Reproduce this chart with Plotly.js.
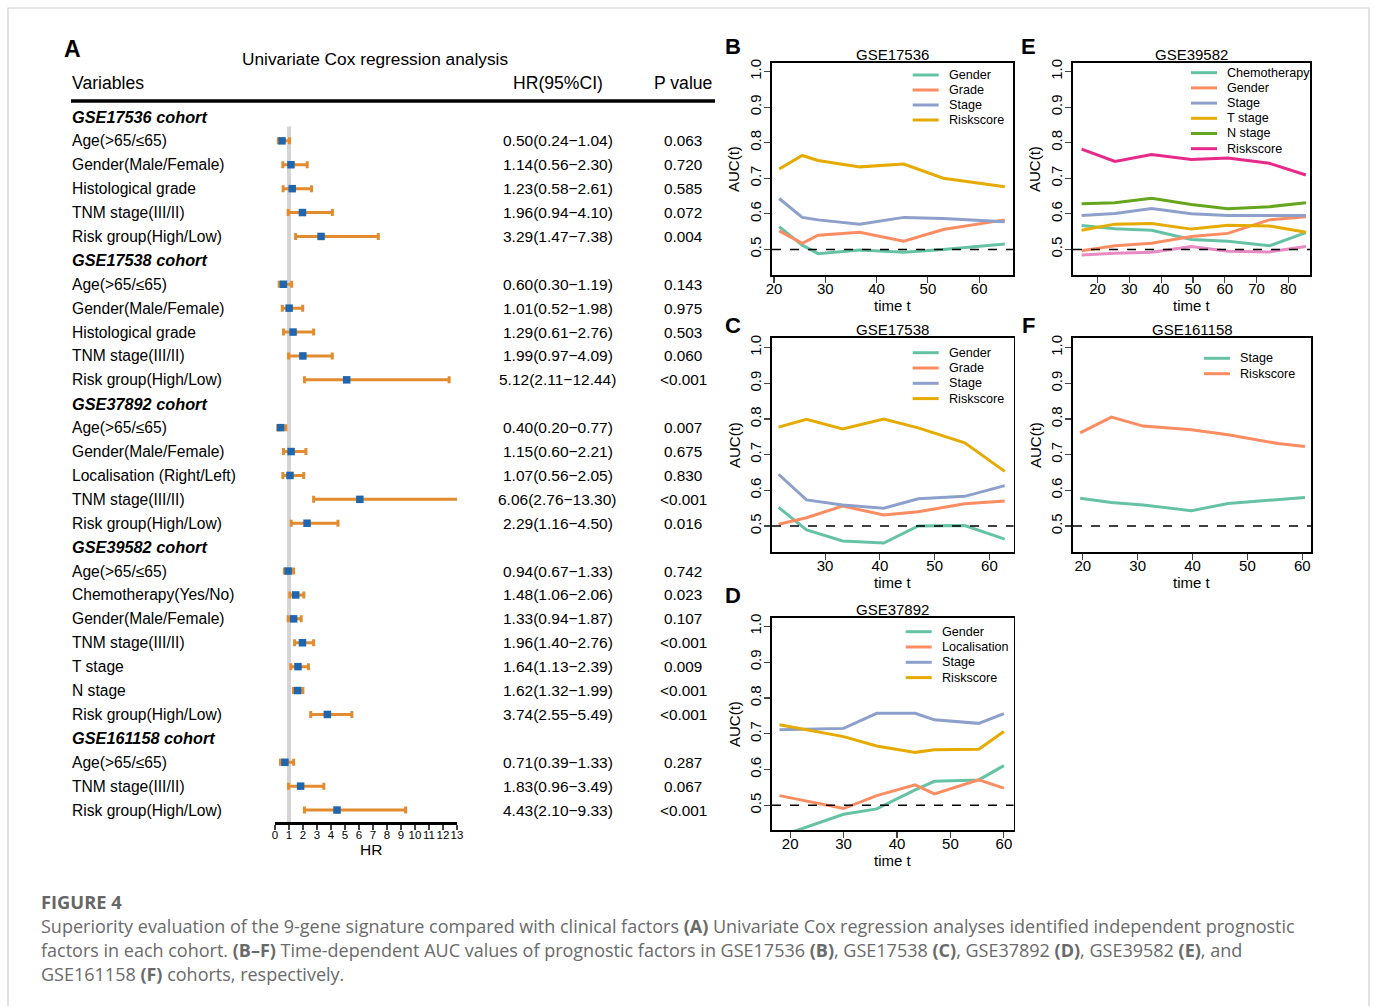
<!DOCTYPE html>
<html>
<head>
<meta charset="utf-8">
<script src="https://cdn.plot.ly/plotly-3.0.1.min.js"></script>
<style>
html,body{margin:0;padding:0;background:#fff;}
#chart{width:1375px;height:1006px;}
</style>
</head>
<body>
<div id="chart"></div>
<script>
// ---------------- Panel A data (univariate Cox) ----------------
const cohorts = ['GSE17536 cohort','GSE17538 cohort','GSE37892 cohort','GSE39582 cohort','GSE161158 cohort'];
const cohortSizes = [5,5,5,7,3];
const variables = [
  'Age(>65/≤65)','Gender(Male/Female)','Histological grade','TNM stage(III/II)','Risk group(High/Low)',
  'Age(>65/≤65)','Gender(Male/Female)','Histological grade','TNM stage(III/II)','Risk group(High/Low)',
  'Age(>65/≤65)','Gender(Male/Female)','Localisation (Right/Left)','TNM stage(III/II)','Risk group(High/Low)',
  'Age(>65/≤65)','Chemotherapy(Yes/No)','Gender(Male/Female)','TNM stage(III/II)','T stage','N stage','Risk group(High/Low)',
  'Age(>65/≤65)','TNM stage(III/II)','Risk group(High/Low)'
];
const hr     = [0.50,1.14,1.23,1.96,3.29, 0.60,1.01,1.29,1.99,5.12, 0.40,1.15,1.07,6.06,2.29, 0.94,1.48,1.33,1.96,1.64,1.62,3.74, 0.71,1.83,4.43];
const ciLow  = [0.24,0.56,0.58,0.94,1.47, 0.30,0.52,0.61,0.97,2.11, 0.20,0.60,0.56,2.76,1.16, 0.67,1.06,0.94,1.40,1.13,1.32,2.55, 0.39,0.96,2.10];
const ciHigh = [1.04,2.30,2.61,4.10,7.38, 1.19,1.98,2.76,4.09,12.44, 0.77,2.21,2.05,13.30,4.50, 1.33,2.06,1.87,2.76,2.39,1.99,5.49, 1.33,3.49,9.33];
const pValues = ['0.063','0.720','0.585','0.072','0.004', '0.143','0.975','0.503','0.060','<0.001', '0.007','0.675','0.830','<0.001','0.016', '0.742','0.023','0.107','<0.001','0.009','<0.001','<0.001', '0.287','0.067','<0.001'];
const hrTicks = [0,1,2,3,4,5,6,7,8,9,10,11,12,13];
const refHR = 1;

// ---------------- Panels B-F data (time-dependent AUC) ----------------
const aucTicks = [0.5,0.6,0.7,0.8,0.9,1.0];
const aucRef = 0.5;
// B GSE17536
const bTimes  = [21, 25.5, 28.6, 36.7, 45.3, 53, 65];
const bGender = [0.564, 0.512, 0.488, 0.498, 0.492, 0.500, 0.515];
const bGrade  = [0.552, 0.517, 0.540, 0.548, 0.523, 0.556, 0.583];
const bStage  = [0.643, 0.590, 0.583, 0.571, 0.590, 0.587, 0.578];
const bRisk   = [0.726, 0.764, 0.750, 0.732, 0.740, 0.700, 0.676];
// C GSE17538
const cTimes  = [21.5, 26.6, 33.2, 40.7, 47, 55.5, 62.8];
const cGender = [0.552, 0.489, 0.458, 0.452, 0.500, 0.501, 0.463];
const cGrade  = [0.505, 0.523, 0.556, 0.531, 0.540, 0.562, 0.570];
const cStage  = [0.645, 0.573, 0.559, 0.550, 0.576, 0.583, 0.613];
const cRisk   = [0.777, 0.799, 0.772, 0.800, 0.775, 0.733, 0.653];
// D GSE37892
const dTimes  = [18, 30, 36.2, 43.4, 47, 55.3, 60];
const dGender = [0.413, 0.475, 0.490, 0.543, 0.567, 0.571, 0.611];
const dLocal  = [0.527, 0.491, 0.527, 0.557, 0.532, 0.571, 0.548];
const dStage  = [0.711, 0.715, 0.757, 0.757, 0.739, 0.729, 0.756];
const dRisk   = [0.725, 0.692, 0.666, 0.648, 0.655, 0.657, 0.706];
// E GSE39582
const eTimes  = [15, 25.5, 37, 49.5, 61, 74, 85.5];
const eChemo  = [0.567, 0.558, 0.554, 0.528, 0.523, 0.510, 0.547];
const eGender = [0.496, 0.510, 0.517, 0.536, 0.545, 0.583, 0.592];
const eStage  = [0.595, 0.601, 0.615, 0.600, 0.595, 0.594, 0.595];
const eTstage = [0.554, 0.571, 0.573, 0.557, 0.568, 0.566, 0.548];
const eNstage = [0.628, 0.631, 0.644, 0.626, 0.614, 0.620, 0.631];
const eRisk   = [0.782, 0.747, 0.767, 0.753, 0.757, 0.742, 0.709];
const eOther  = [0.484, 0.489, 0.492, 0.508, 0.495, 0.493, 0.508];
// F GSE161158
const fTimes  = [19.5, 25.2, 31, 39.8, 46.5, 55.6, 60.5];
const fStage  = [0.578, 0.566, 0.559, 0.543, 0.563, 0.575, 0.580];
const fRisk   = [0.761, 0.805, 0.780, 0.770, 0.756, 0.731, 0.723];

// ---------------- helpers ----------------
const W = 1375, H = 1006;
const fx = p => p / W;
const fy = p => 1 - p / H;
const FONT = 'Liberation Sans, Arial, sans-serif';
const C = {teal:'#66C2A5', orange:'#FC8D62', blue:'#8DA0CB', gold:'#E6AB02', green:'#66A61E', magenta:'#E7298A', pink:'#E78AC3'};

const rowY = [];
const headerRows = [];
{
  let r = 0;
  cohorts.forEach((c, ci) => {
    headerRows.push(r); r++;
    for (let j = 0; j < cohortSizes[ci]; j++) { rowY.push(r); r++; }
  });
}
const nRows = rowY.length + headerRows.length;

const traces = [];
const annotations = [];
const shapes = [];
function txt(x, y, text, size, opts) {
  annotations.push(Object.assign({xref:'paper', yref:'paper', x:fx(x), y:fy(y), xanchor:'center', yanchor:'middle',
    text, showarrow:false, borderpad:0, font:{family:FONT, size, color:'#000'}}, opts || {}));
}

// forest trace
traces.push({
  type:'scatter', mode:'markers', x: hr, y: rowY, xaxis:'x', yaxis:'y', showlegend:false,
  marker:{symbol:'square', size:7.5, color:'#1f66ae'},
  error_x:{type:'data', symmetric:false,
    array: hr.map((v,i)=> ciHigh[i]-v), arrayminus: hr.map((v,i)=> v-ciLow[i]),
    color:'#e38b2f', thickness:3, width:3.5}
});

const rowAnn = (x, r, text, size, xanchor) => annotations.push({xref:'paper', yref:'y', x:fx(x), y:r, xanchor, yanchor:'middle',
  text, showarrow:false, borderpad:0, font:{family:FONT, size, color:'#000'}});
headerRows.forEach((r, i) => rowAnn(71, r, '<b><i>'+cohorts[i]+'</i></b>', 16.3, 'left'));
const fmt = v => v.toFixed(2);
rowY.forEach((r, i) => {
  rowAnn(71, r, variables[i], 15.6, 'left');
  rowAnn(557.5, r, fmt(hr[i])+'('+fmt(ciLow[i])+'−'+fmt(ciHigh[i])+')', 15.5, 'center');
  rowAnn(683, r, pValues[i], 15.3, 'center');
});
txt(72.5, 49, '<b>A</b>', 23);
txt(375, 59, 'Univariate Cox regression analysis', 17.3);
txt(71, 83, 'Variables', 17.6, {xanchor:'left'});
txt(558, 83, 'HR(95%CI)', 17.6);
txt(683, 83, 'P value', 17.6);
txt(371, 849, 'HR', 15.5);
shapes.push({type:'line', xref:'paper', yref:'paper', x0:fx(71), x1:fx(715), y0:fy(101), y1:fy(101), line:{color:'#000', width:3.5}});
shapes.push({type:'line', xref:'x', yref:'y domain', x0:refHR, x1:refHR, y0:0, y1:0.97, layer:'below', line:{color:'#d4d4d4', width:4}});

// ---------------- AUC panels ----------------
const panels = [
  {id:2, letter:'B', lp:[733,47], title:'GSE17536', box:[772,1013,63,275], xr:[19.6,66.6], yr:[0.428,1.024], xt:[20,30,40,50,60],
   leg:[912.7,75,15], series:[['Gender',bTimes,bGender,C.teal],['Grade',bTimes,bGrade,C.orange],['Stage',bTimes,bStage,C.blue],['Riskscore',bTimes,bRisk,C.gold]]},
  {id:3, letter:'C', lp:[733,325], title:'GSE17538', box:[772,1013.5,338,552], xr:[20.3,64.4], yr:[0.427,1.027], xt:[30,40,50,60],
   leg:[912.7,352.7,15.3], series:[['Gender',cTimes,cGender,C.teal],['Grade',cTimes,cGrade,C.orange],['Stage',cTimes,cStage,C.blue],['Riskscore',cTimes,cRisk,C.gold]]},
  {id:4, letter:'D', lp:[733,595], title:'GSE37892', box:[772,1013.5,618,830], xr:[16.6,61.8], yr:[0.431,1.0235], xt:[20,30,40,50,60],
   leg:[905.7,631.7,15.3], series:[['Gender',dTimes,dGender,C.teal],['Localisation',dTimes,dLocal,C.orange],['Stage',dTimes,dStage,C.blue],['Riskscore',dTimes,dRisk,C.gold]]},
  {id:5, letter:'E', lp:[1028,47], title:'GSE39582', box:[1073,1310,63,275], xr:[12.3,86.8], yr:[0.428,1.024], xt:[20,30,40,50,60,70,80],
   leg:[1191,72.7,15.2], series:[['Chemotherapy',eTimes,eChemo,C.teal],['Gender',eTimes,eGender,C.orange],['Stage',eTimes,eStage,C.blue],['T stage',eTimes,eTstage,C.gold],['N stage',eTimes,eNstage,C.green],['Riskscore',eTimes,eRisk,C.magenta],['Other',eTimes,eOther,C.pink,false]]},
  {id:6, letter:'F', lp:[1028,325], title:'GSE161158', box:[1073,1311,338,552], xr:[18.2,61.6], yr:[0.427,1.027], xt:[20,30,40,50,60],
   leg:[1204,358.3,15.4], series:[['Stage',fTimes,fStage,C.teal],['Riskscore',fTimes,fRisk,C.orange]]}
];

const layout = {
  width: W, height: H, margin:{l:0,r:0,t:0,b:0},
  paper_bgcolor:'#fff', plot_bgcolor:'rgba(0,0,0,0)',
  font:{family:FONT, color:'#000'},
  showlegend:false,
  xaxis:{domain:[fx(275), fx(457)], range:[0,13], anchor:'y', tickvals:hrTicks, tickangle:0, ticks:'outside', ticklen:5, tickwidth:2,
         ticklabelstandoff:-4, showline:true, linewidth:2.5, linecolor:'#000', showgrid:false, zeroline:false, tickfont:{family:FONT,size:11.5}},
  yaxis:{domain:[fy(822), fy(105)], range:[nRows-0.5, -0.5], anchor:'x', visible:false, showgrid:false, zeroline:false},
  annotations, shapes
};

panels.forEach(p => {
  const xa = 'xaxis'+p.id, ya = 'yaxis'+p.id;
  const [l, r, t, b] = p.box;
  layout[xa] = {domain:[fx(l), fx(r)], range:p.xr, anchor:'y'+p.id, tickvals:p.xt, tickangle:0, ticks:'outside', ticklen:6, tickwidth:1.2,
    ticklabelstandoff:-7, showline:true, mirror:true, linecolor:'#000', linewidth:1.6, showgrid:false, zeroline:false, tickfont:{family:FONT,size:15}};
  layout[ya] = {domain:[fy(b), fy(t)], range:p.yr, anchor:'x'+p.id, tickvals:aucTicks, ticktext:aucTicks.map(v=>v.toFixed(1)), tickangle:-90,
    ticks:'outside', ticklen:6, tickwidth:1.2, ticklabelstandoff:-3, showline:true, mirror:true, linecolor:'#000', linewidth:1.6, showgrid:false, zeroline:false,
    tickfont:{family:FONT,size:15}};
  let k = 0;
  p.series.forEach(s => {
    traces.push({type:'scatter', mode:'lines', name:s[0], x:s[1], y:s[2], xaxis:'x'+p.id, yaxis:'y'+p.id,
      showlegend:false, line:{color:s[3], width:3}});
    if (s[4] !== false) {
      const ly = p.leg[1] + k * p.leg[2];
      shapes.push({type:'line', xref:'paper', yref:'paper', x0:fx(p.leg[0]), x1:fx(p.leg[0]+26), y0:fy(ly), y1:fy(ly), line:{color:s[3], width:3}});
      txt(p.leg[0]+35, ly, s[0], 12.6, {xanchor:'left'});
      k++;
    }
  });
  shapes.push({type:'line', xref:'x'+p.id+' domain', yref:'y'+p.id, x0:0, x1:1, y0:aucRef, y1:aucRef, line:{color:'#000', width:1.5, dash:'dash'}});
  txt((l+r)/2, t-9, p.title, 15);
  txt((l+r)/2, b+30, 'time t', 15);
  txt(l-38, (t+b)/2, 'AUC(t)', 15, {textangle:-90});
  txt(p.lp[0], p.lp[1], '<b>'+p.letter+'</b>', 22);
});

// ---------------- caption & frame ----------------
const CAP = 'Open Sans, Lato, sans-serif';
shapes.push({type:'rect', xref:'paper', yref:'paper', x0:fx(8), x1:fx(1369), y0:fy(1012), y1:fy(8), line:{color:'#cfcfcf', width:1.2}, layer:'below'});
txt(40, 901, '<b>FIGURE 4</b>', 18.3, {xanchor:'left', font:{family:CAP, size:18.3, color:'#666'}});
const capLines = [
  'Superiority evaluation of the 9-gene signature compared with clinical factors <b>(A)</b> Univariate Cox regression analyses identified independent prognostic',
  'factors in each cohort. <b>(B–F)</b> Time-dependent AUC values of prognostic factors in GSE17536 <b>(B)</b>, GSE17538 <b>(C)</b>, GSE37892 <b>(D)</b>, GSE39582 <b>(E)</b>, and',
  'GSE161158 <b>(F)</b> cohorts, respectively.'
];
capLines.forEach((t, i) => txt(40, 926 + i*24, t, 18, {xanchor:'left', font:{family:CAP, size:18, color:'#6a6a6a'}}));

Plotly.newPlot('chart', traces, layout, {staticPlot:true, displayModeBar:false});
</script>
</body>
</html>
